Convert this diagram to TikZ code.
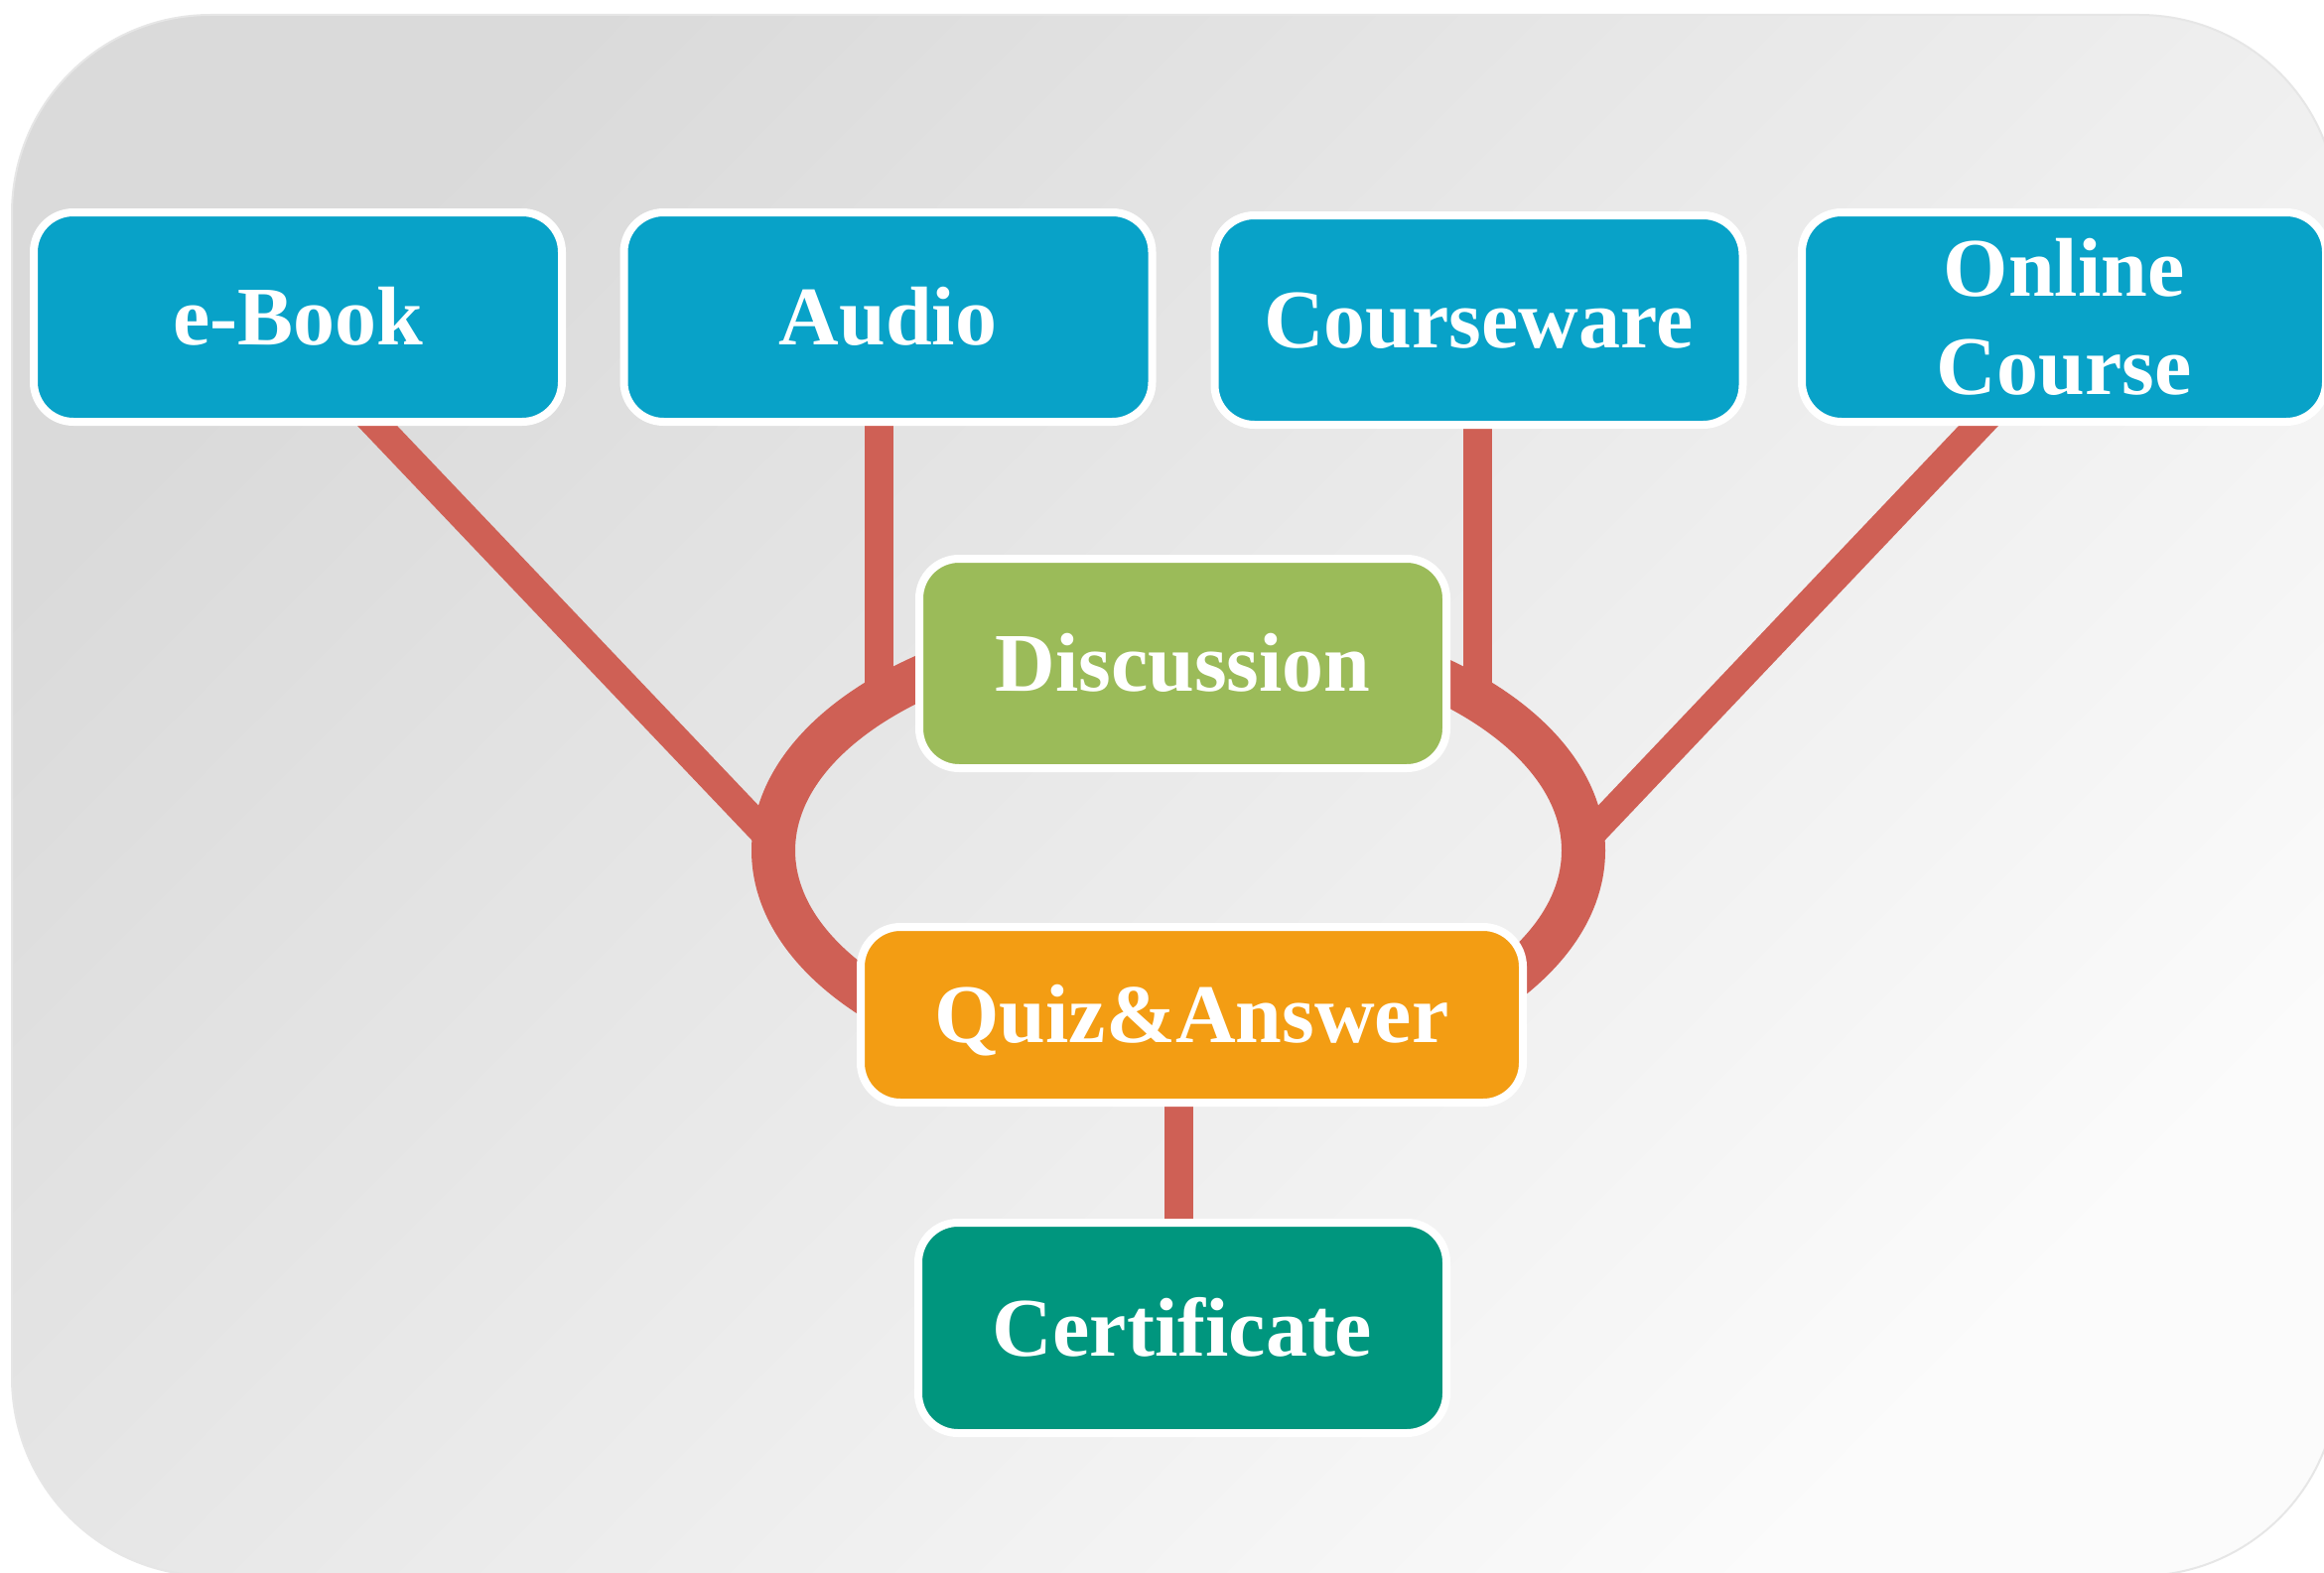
\documentclass[tikz,border=0pt]{standalone}
\usepackage{fontspec}
\setmainfont{Liberation Serif}
\usetikzlibrary{shapes.geometric}
\definecolor{bluebox}{RGB}{8,162,200}
\definecolor{greenbox}{RGB}{155,187,89}
\definecolor{orangebox}{RGB}{243,157,19}
\definecolor{tealbox}{RGB}{0,150,126}
\definecolor{linkred}{RGB}{207,96,85}
\definecolor{bgdark}{RGB}{218,218,218}
\definecolor{bglight}{RGB}{251,251,251}
\definecolor{bgedge}{RGB}{230,230,230}
\pgfdeclarelayer{bg}
\pgfdeclarelayer{links}
\pgfsetlayers{bg,links,main}
\begin{document}
\begin{tikzpicture}[x=1pt,y=-1pt,
  box/.style={rectangle, rounded corners=40pt, draw=white, line width=8pt,
    text=white, font=\bfseries\fontsize{84}{99}\selectfont,
    minimum width=532pt, minimum height=211pt, inner sep=0pt, align=center},
  oneline/.style={text height=56pt, text depth=0pt},
  link/.style={draw=linkred, line width=29pt}]
\useasboundingbox (0,0) rectangle (2341,1584);

% boxes
\node[box, oneline, fill=bluebox] (ebook) at (300,319.5) {e-Book};
\node[box, oneline, fill=bluebox] (audio) at (894.5,319.5) {Audio};
\node[box, oneline, fill=bluebox] (course) at (1489.5,322.5) {Courseware};
\node[box, fill=bluebox, minimum width=528pt] (online) at (2079,319.5) {Online\\Course};
\node[box, oneline, fill=greenbox, minimum width=531pt] (disc) at (1191.5,668.5) {Discussion};
\node[box, oneline, fill=orangebox, minimum width=667pt, minimum height=177pt] (quiz) at (1200.5,1022.5) {Quiz\&Answer};
\node[box, oneline, fill=tealbox, minimum height=212pt] (cert) at (1191,1338) {Certificate};

% connectors
\begin{pgfonlayer}{links}
\node[ellipse, draw=linkred, line width=44pt, minimum width=816pt,
      minimum height=452pt, inner sep=0pt] (ring) at (1187,857) {};
\coordinate (rL) at (772,841);
\coordinate (rR) at (1602,841);
\coordinate (rA) at (885.5,700);
\coordinate (rC) at (1488,700);
\draw[link] ([shift={(61,-20)}]ebook.south) -- (rL);
\draw[link] ([shift={(-67,-20)}]online.south) -- (rR);
\draw[link] ([shift={(-9,-10)}]audio.south) -- (rA);
\draw[link] ([shift={(-1.5,-10)}]course.south) -- (rC);
\draw[link] ([shift={(-13.5,-10)}]quiz.south) -- ([shift={(-4,10)}]cert.north);
\end{pgfonlayer}

% background
\begin{pgfonlayer}{bg}
\path[rounded corners=200pt, shade, top color=bgdark, bottom color=bglight,
      shading angle=45, draw=bgedge, line width=2pt] (12,15) rectangle (2355,1588);
\end{pgfonlayer}
\end{tikzpicture}
\end{document}
